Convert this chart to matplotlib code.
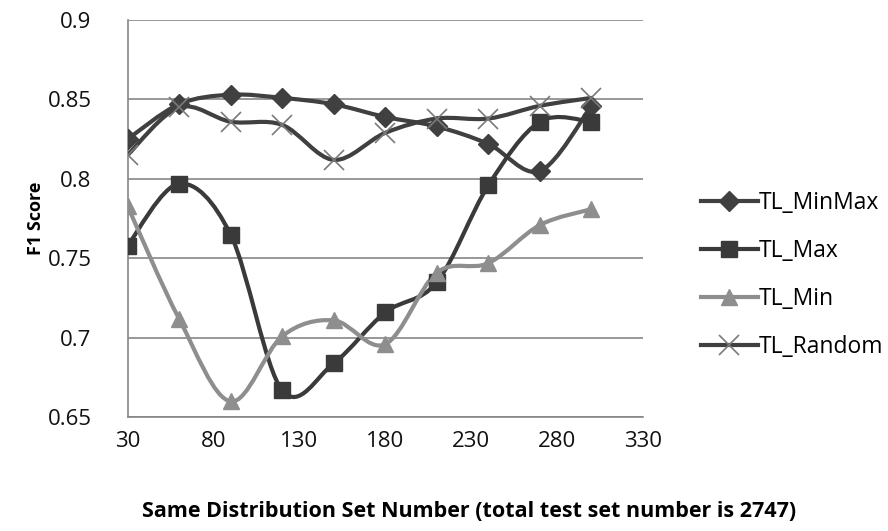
import matplotlib.pyplot as plt
from matplotlib.path import Path
from matplotlib.patches import PathPatch

# Data
sizes = [30, 60, 90, 120, 150, 180, 210, 240, 270, 300]
tl_minmax = [0.825, 0.847, 0.853, 0.851, 0.847, 0.839, 0.833, 0.822, 0.805, 0.846]
tl_max = [0.758, 0.797, 0.765, 0.667, 0.684, 0.716, 0.735, 0.796, 0.836, 0.836]
tl_min = [0.783, 0.712, 0.660, 0.701, 0.711, 0.696, 0.741, 0.747, 0.771, 0.781]
tl_random = [0.815, 0.845, 0.836, 0.834, 0.812, 0.829, 0.838, 0.838, 0.846, 0.851]
series_names = ['TL_MinMax', 'TL_Max', 'TL_Min', 'TL_Random']

x_ticks = [30, 80, 130, 180, 230, 280, 330]
y_ticks = [0.65, 0.7, 0.75, 0.8, 0.85, 0.9]

plt.rcParams['font.family'] = ['Open Sans', 'DejaVu Sans']


def smooth_path(xs, ys):
    '''
    Curva suave tipo Excel (Bezier cubica a traves de los puntos)
    '''
    pts = list(zip(xs, ys))
    n = len(pts)
    verts = [pts[0]]
    codes = [Path.MOVETO]
    for i in range(n - 1):
        p0 = pts[i - 1] if i > 0 else pts[i]
        p1 = pts[i]
        p2 = pts[i + 1]
        p3 = pts[i + 2] if i + 2 < n else pts[i + 1]
        c1 = (p1[0] + (p2[0] - p0[0]) / 6, p1[1] + (p2[1] - p0[1]) / 6)
        c2 = (p2[0] - (p3[0] - p1[0]) / 6, p2[1] - (p3[1] - p1[1]) / 6)
        verts += [c1, c2, p2]
        codes += [Path.CURVE4, Path.CURVE4, Path.CURVE4]
    return Path(verts, codes)


fig = plt.figure(figsize=(8.88, 5.31), dpi=100)
ax = fig.add_axes([0.1436, 0.2141, 0.5805, 0.7482])

dark = '#404040'
light = '#8e8e8e'
styles = [
    (tl_minmax, dark, dict(marker='D', markersize=10, markerfacecolor=dark, markeredgecolor=dark)),
    (tl_max, '#3a3a3a', dict(marker='s', markersize=12, markerfacecolor='#3a3a3a', markeredgecolor='#3a3a3a')),
    (tl_min, light, dict(marker='^', markersize=12, markerfacecolor=light, markeredgecolor=light)),
    (tl_random, dark, dict(marker='x', markersize=14, markeredgecolor='#7a7a7a', markeredgewidth=1.2)),
]

handles = []
for (vals, col, mk), name in zip(styles, series_names):
    patch = PathPatch(smooth_path(sizes, vals), facecolor='none', edgecolor=col,
                      linewidth=3, transform=ax.transData, zorder=3)
    ax.add_patch(patch)
    ax.plot(sizes, vals, linestyle='none', zorder=4, **mk)
    h, = ax.plot([], [], color=col, linewidth=3, label=name, **mk)
    handles.append(h)

ax.set_xlim(30, 330)
ax.set_ylim(0.65, 0.9)
ax.set_xticks(x_ticks)
ax.set_yticks(y_ticks)
ax.set_xticklabels([str(v) for v in x_ticks])
ax.set_yticklabels(['0.65', '0.7', '0.75', '0.8', '0.85', '0.9'])
ax.tick_params(length=0, labelsize=16, colors='#111111')
ax.tick_params(axis='x', pad=10)
ax.tick_params(axis='y', pad=26)
ax.grid(axis='y', color='#868686', linewidth=1.2)
ax.set_axisbelow(True)
for s in ['top', 'right']:
    ax.spines[s].set_visible(False)
for s in ['left', 'bottom']:
    ax.spines[s].set_color('#868686')
    ax.spines[s].set_linewidth(1.2)

ax.set_ylabel('F1 Score', fontsize=13, fontweight='bold')
ax.yaxis.set_label_coords(-0.16, 0.5)
ax.set_xlabel('Same Distribution Set Number (total test set number is 2747)',
              fontsize=15.5, fontweight='bold')
ax.xaxis.set_label_coords((469 / 888 - 0.1436) / 0.5805, -0.21)

fig.legend(handles=handles, loc='center left', bbox_to_anchor=(0.789, 0.482),
           frameon=False, fontsize=16.5, handlelength=2.5, handletextpad=0.05,
           labelspacing=1.05, borderaxespad=0, borderpad=0)

plt.savefig('out.png', dpi=100)
